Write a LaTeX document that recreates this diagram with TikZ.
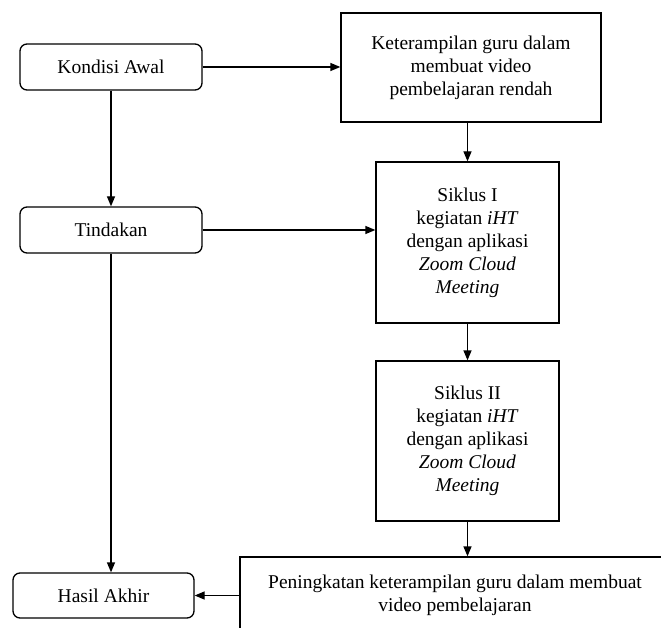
\documentclass[tikz,border=0pt]{standalone}
\usepackage{fontspec}
\setmainfont{Liberation Serif}
\usetikzlibrary{arrows.meta}

\begin{document}
\begin{tikzpicture}[x=1pt, y=-1pt, line width=1.3pt,
                    >={Triangle[length=10pt,width=8pt]},
                    font=\fontsize{19.5}{23}\selectfont,
                    round node/.style={rectangle,rounded corners=7pt,draw,minimum width=182pt,minimum height=46pt,inner sep=0pt},
                    main node/.style={rectangle,draw,align=center,inner sep=0pt}]

  \useasboundingbox (0,0) rectangle (661,628);

  \node[round node] (kondisi) at (111,67) {Kondisi Awal};
  \node[round node] (tindakan) at (111,230) {Tindakan};
  \node[round node, minimum width=181pt, minimum height=45pt] (hasil) at (103.5,595.5) {Hasil Akhir};

  \node[main node, minimum width=260pt, minimum height=109pt] (masalah) at (471,67.5)
       {Keterampilan guru dalam\\ membuat video\\ pembelajaran rendah};
  \node[main node, minimum width=183pt, minimum height=161pt] (siklus1) at (467.5,242.5)
       {Siklus I\\ kegiatan \textit{iHT}\\ dengan aplikasi\\ \textit{Zoom Cloud}\\ \textit{Meeting}};
  \node[main node, minimum width=183pt, minimum height=160pt] (siklus2) at (467.5,441)
       {Siklus II\\ kegiatan \textit{iHT}\\ dengan aplikasi\\ \textit{Zoom Cloud}\\ \textit{Meeting}};
  \node[main node, minimum width=430pt, minimum height=76pt] (hasilbox) at (455,595)
       {Peningkatan keterampilan guru dalam membuat\\ video pembelajaran};

  % connectors
  \draw[->] (kondisi.east) -- (kondisi.east -| masalah.west);
  \draw[->] (siklus1.north |- masalah.south) -- (siklus1.north);
  \draw[->] (kondisi.south) -- (tindakan.north);
  \draw[->] (tindakan.east) -- (tindakan.east -| siklus1.west);
  \draw[->] (siklus1.south) -- (siklus2.north);
  \draw[->] (siklus2.south) -- (siklus2.south |- hasilbox.north);
  \draw[->] (tindakan.south) -- (tindakan.south |- hasil.north);
  \draw[->] (hasil.east -| hasilbox.west) -- (hasil.east);

\end{tikzpicture}
\end{document}
